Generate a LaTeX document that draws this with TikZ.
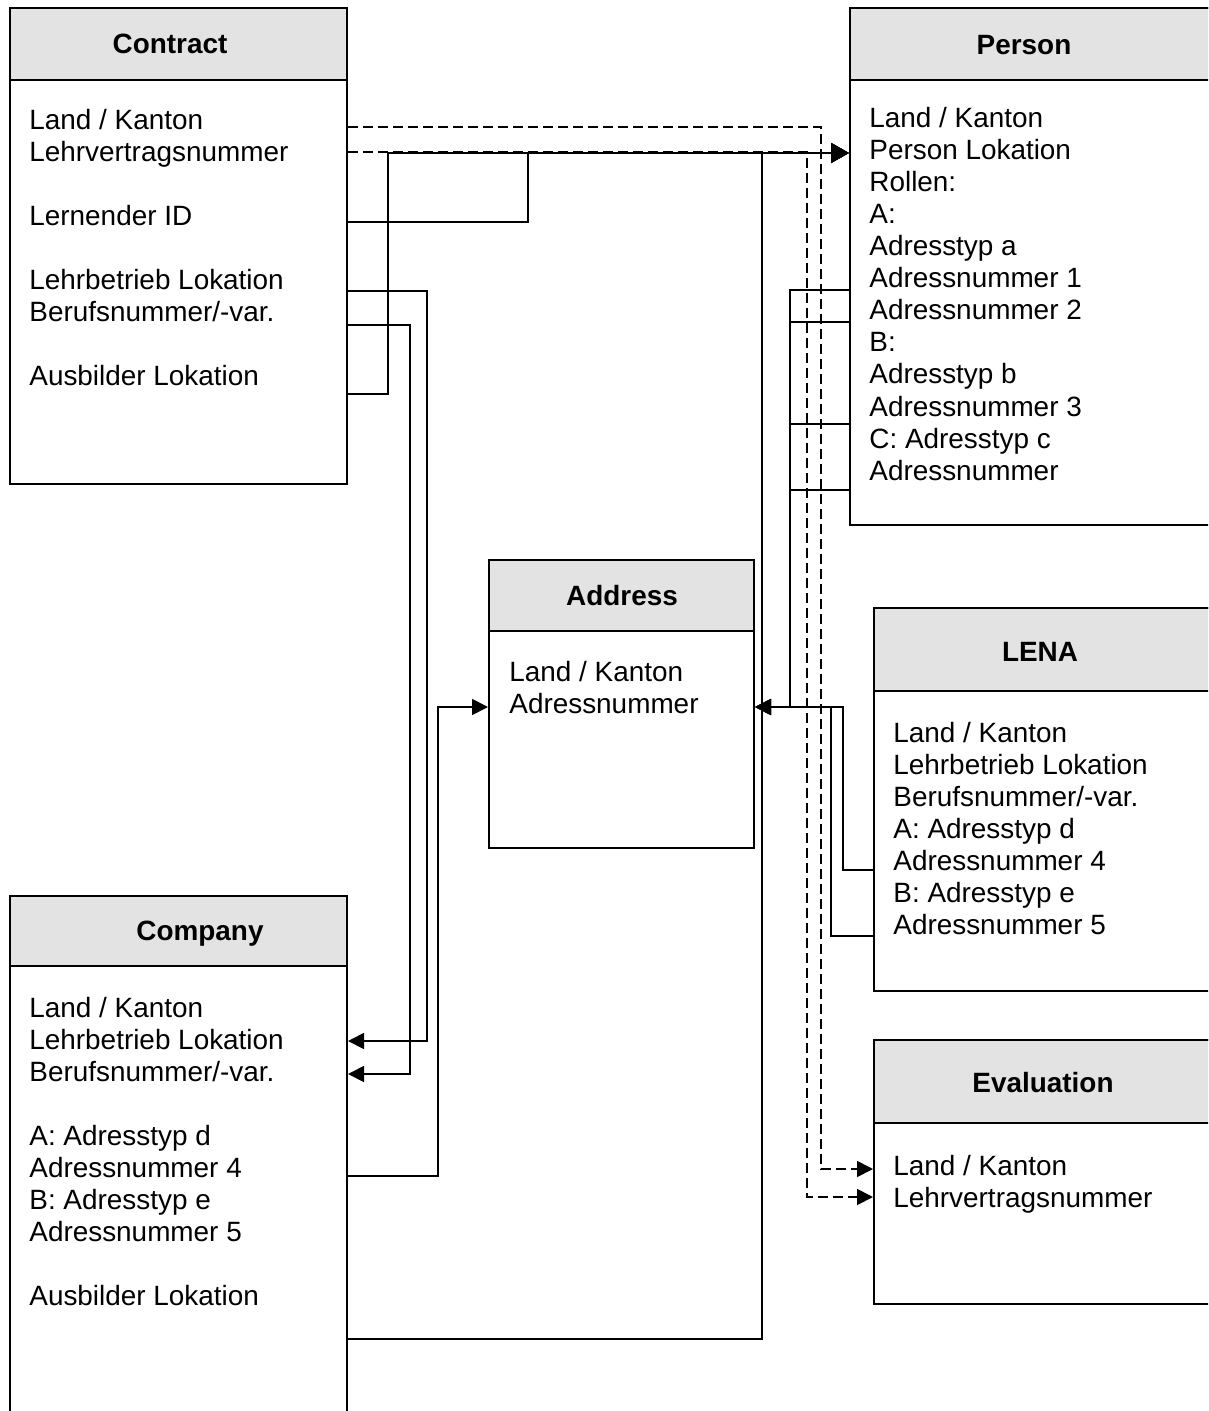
\documentclass[tikz,border=0pt]{standalone}
\usepackage{fontspec}
\setmainfont{Liberation Sans}
\usetikzlibrary{arrows.meta}

\tikzset{
  classbox/.style={draw, line width=1pt, anchor=north west, inner sep=0pt},
  classhead/.style={classbox, fill=gray!22},
  classname/.style={anchor=base, inner sep=0pt, font=\fontsize{13.95}{16}\selectfont\bfseries},
  attr/.style={anchor=base west, inner sep=0pt, font=\fontsize{13.95}{16}\selectfont},
  plain/.style={line width=0.9pt},
  link/.style={plain, -{Triangle[length=8pt, width=8pt]}},
  personlink/.style={plain, -{Triangle[length=9pt, width=10pt]}},
  evallink/.style={link, dash pattern=on 5pt off 2.5pt}
}

\begin{document}
\begin{tikzpicture}[x=0.5pt, y=-0.5pt]
  \useasboundingbox (0,0) rectangle (1208,1411);
  \clip (0,0) rectangle (1208,1411);

  % Boxes
  \node[classbox, minimum width=168.5pt, minimum height=238pt] (contract) at (9,7) {};
  \node[classhead, minimum width=168.5pt, minimum height=36pt] (contract-head) at (9,7) {};
  \node[classbox, minimum width=200pt, minimum height=258.5pt] (person) at (849,7) {};
  \node[classhead, minimum width=200pt, minimum height=36pt] (person-head) at (849,7) {};
  \node[classbox, minimum width=132.5pt, minimum height=144pt] (address) at (488,559) {};
  \node[classhead, minimum width=132.5pt, minimum height=35.5pt] (address-head) at (488,559) {};
  \node[classbox, minimum width=190pt, minimum height=191.5pt] (lena) at (873,607) {};
  \node[classhead, minimum width=190pt, minimum height=41.5pt] (lena-head) at (873,607) {};
  \node[classbox, minimum width=168.5pt, minimum height=280pt] (company) at (9,895) {};
  \node[classhead, minimum width=168.5pt, minimum height=35pt] (company-head) at (9,895) {};
  \node[classbox, minimum width=190pt, minimum height=132pt] (evaluation) at (873,1039) {};
  \node[classhead, minimum width=190pt, minimum height=41.5pt] (evaluation-head) at (873,1039) {};

  % Titles
  \node[classname] (contract-title) at (170,54) {Contract};
  \node[classname] (person-title) at (1024,55) {Person};
  \node[classname] (address-title) at (622,605) {Address};
  \node[classname] (lena-title) at (1040,661) {LENA};
  \node[classname] (company-title) at (200,940) {Company};
  \node[classname] (evaluation-title) at (1043,1092) {Evaluation};

  % Attributes
  \foreach \t/\r in {{Land / Kanton}/0, Lehrvertragsnummer/1, {Lernender ID}/3,
      {Lehrbetrieb Lokation}/5, {Berufsnummer/-var.}/6, {Ausbilder Lokation}/8}
    \node[attr] (contract-\r) at (29,{130+32*\r}) {\t};
  \foreach \t [count=\r from 0] in {Land / Kanton, Person Lokation, Rollen:, A:,
      Adresstyp a, Adressnummer 1, Adressnummer 2, B:, Adresstyp b,
      Adressnummer 3, C: Adresstyp c, Adressnummer}
    \node[attr] (person-\r) at (869,{128+32*\r}) {\t};
  \foreach \t [count=\r from 0] in {Land / Kanton, Adressnummer}
    \node[attr] (address-\r) at (509,{681+32*\r}) {\t};
  \foreach \t [count=\r from 0] in {Land / Kanton, Lehrbetrieb Lokation,
      Berufsnummer/-var., A: Adresstyp d, Adressnummer 4, B: Adresstyp e, Adressnummer 5}
    \node[attr] (lena-\r) at (893,{742+32*\r}) {\t};
  \foreach \t/\r in {{Land / Kanton}/0, {Lehrbetrieb Lokation}/1, {Berufsnummer/-var.}/2,
      {A: Adresstyp d}/4, {Adressnummer 4}/5, {B: Adresstyp e}/6, {Adressnummer 5}/7,
      {Ausbilder Lokation}/9}
    \node[attr] (company-\r) at (29,{1017+32*\r}) {\t};
  \foreach \t [count=\r from 0] in {Land / Kanton, Lehrvertragsnummer}
    \node[attr] (evaluation-\r) at (893,{1175+32*\r}) {\t};

  % Rails
  \coordinate (rail-lern) at (528,0);
  \coordinate (rail-ausb) at (388,0);
  \coordinate (rail-comp) at (762,0);
  \coordinate (rail-lehrb) at (427,0);
  \coordinate (rail-beruf) at (410,0);
  \coordinate (rail-adr) at (438,0);
  \coordinate (rail-pers) at (790,0);
  \coordinate (rail-lenaA) at (843,0);
  \coordinate (rail-lenaB) at (831,0);
  \coordinate (rail-evalA) at (821,0);
  \coordinate (rail-evalB) at (807,0);

  % Ends
  \coordinate (c-land) at ([yshift=1.5pt]contract-0.base -| contract.east);
  \coordinate (c-lehrv) at ([yshift=5pt]contract-1.base -| contract.east);
  \coordinate (c-lern) at ([yshift=2pt]contract-3.base -| contract.east);
  \coordinate (c-lehrb) at ([yshift=-0.5pt]contract-5.base -| contract.east);
  \coordinate (c-beruf) at ([yshift=-1.5pt]contract-6.base -| contract.east);
  \coordinate (c-ausb) at ([yshift=-4pt]contract-8.base -| contract.east);
  \coordinate (p-lok) at ([yshift=3.5pt]person-1.base -| person.west);
  \coordinate (p-adr1) at ([yshift=-1pt]person-5.base -| person.west);
  \coordinate (p-adr2) at ([yshift=-1pt]person-6.base -| person.west);
  \coordinate (p-adr3) at ([yshift=-4pt]person-9.base -| person.west);
  \coordinate (p-adr) at ([yshift=-5pt]person-11.base -| person.west);
  \coordinate (a-west) at ([yshift=3pt]address-1.base -| address.west);
  \coordinate (a-east) at ([yshift=3pt]address-1.base -| address.east);
  \coordinate (l-adr4) at (lena-4.base -| lena.west);
  \coordinate (l-adr5) at ([yshift=-1pt]lena-6.base -| lena.west);
  \coordinate (m-lehrb) at ([yshift=4pt]company-1.base -| company.east);
  \coordinate (m-beruf) at ([yshift=3.5pt]company-2.base -| company.east);
  \coordinate (m-adr4) at ([yshift=0.5pt]company-5.base -| company.east);
  \coordinate (m-ausb) at ([yshift=-17pt]company-9.base -| company.east);
  \coordinate (e-land) at ([yshift=3pt]evaluation-0.base -| evaluation.west);
  \coordinate (e-lehrv) at ([yshift=5pt]evaluation-1.base -| evaluation.west);

  % Links
  \draw[evallink] (c-land) -| (rail-evalA |- e-land) -- (e-land);
  \draw[evallink] (c-lehrv) -| (rail-evalB |- e-lehrv) -- (e-lehrv);
  \draw[personlink] (c-lern) -| (rail-lern |- p-lok) -- (p-lok);
  \draw[personlink] (c-ausb) -| (rail-ausb |- p-lok) -- (p-lok);
  \draw[personlink] (m-ausb) -| (rail-comp |- p-lok) -- (p-lok);
  \draw[link] (c-lehrb) -| (rail-lehrb |- m-lehrb) -- (m-lehrb);
  \draw[link] (c-beruf) -| (rail-beruf |- m-beruf) -- (m-beruf);
  \draw[link] (m-adr4) -| (rail-adr |- a-west) -- (a-west);
  \draw[link] (p-adr1) -| (rail-pers |- a-east) -- (a-east);
  \foreach \p in {p-adr2, p-adr3, p-adr}
    \draw[plain] (\p) -- (rail-pers |- \p);
  \draw[link] (l-adr4) -| (rail-lenaA |- a-east) -- (a-east);
  \draw[link] (l-adr5) -| (rail-lenaB |- a-east) -- (a-east);
\end{tikzpicture}
\end{document}
